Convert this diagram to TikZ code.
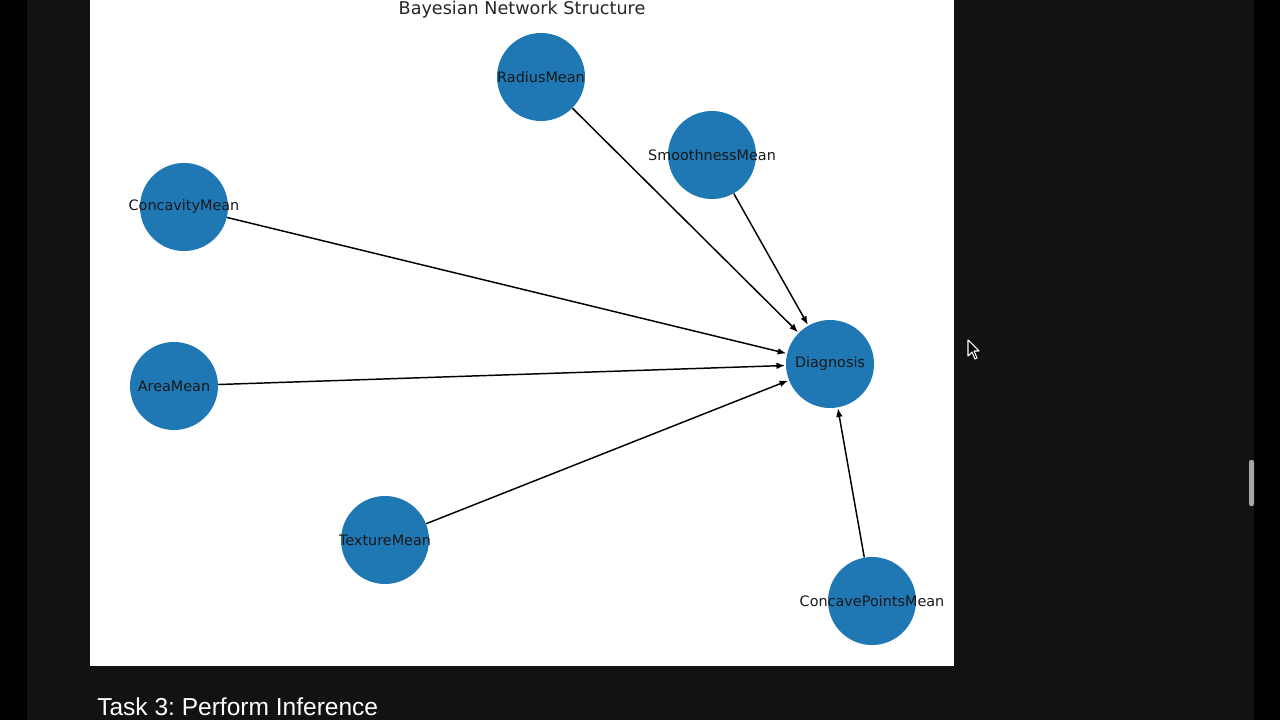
\documentclass[tikz,border=0pt]{standalone}
\usepackage{fontspec}
\setmainfont{DejaVu Sans}
\newfontfamily\taskfont{Liberation Sans}
\usetikzlibrary{arrows.meta}
\definecolor{nodeblue}{HTML}{1F77B4}
\definecolor{screen}{HTML}{121212}
\frenchspacing

\begin{document}
\begin{tikzpicture}[x=0.75pt,y=-0.75pt,
    var/.style={circle,fill=nodeblue,minimum size=66pt,inner sep=0pt,
        label={[font=\fontsize{10.8}{12}\selectfont,text=black!90,inner sep=0pt]center:#1}},
    edge/.style={-{Latex[length=6.5pt,width=5pt]},line width=1.1pt,shorten >=0.5pt}]
        \useasboundingbox (0,0) rectangle (1280,720);
        \fill[black] (0,0) rectangle (1280,720);
        \fill[screen] (27,0) rectangle (1254,720);
        \fill[white] (90,0) rectangle (954,666);
        \fill[gray!70,rounded corners=1.5pt] (1249,460) rectangle (1254,506);
        \node[font=\fontsize{13.2}{15}\selectfont,text=black!85] (title) at (522,10) {Bayesian Network Structure};
        \node[var=RadiusMean] (radius) at (541,77) {};
        \node[var=SmoothnessMean] (smooth) at (712,155) {};
        \node[var=ConcavityMean] (concavity) at (184,207) {};
        \node[var=AreaMean] (area) at (174,386) {};
        \node[var=Diagnosis] (diag) at (830,364) {};
        \node[var=TextureMean] (texture) at (385,540) {};
        \node[var=ConcavePointsMean] (concpts) at (872,601) {};
        \draw[edge] (radius) -- (diag);
        \draw[edge] (smooth) -- (diag);
        \draw[edge] (concavity) -- (diag);
        \draw[edge] (area) -- (diag);
        \draw[edge] (texture) -- (diag);
        \draw[edge] (concpts) -- (diag);
        \node[anchor=west,text=white,font=\taskfont\fontsize{18.4}{20}\selectfont,inner sep=0pt] (task) at (97,707) {Task 3: Perform Inference};
        % mouse pointer
        \filldraw[fill=black,draw=white,line width=0.8pt,line join=round] (968,340) -- (968,356) -- (972,352) -- (975,359) -- (977,358) -- (974,351) -- (979,351) -- cycle;
    \end{tikzpicture}
\end{document}
